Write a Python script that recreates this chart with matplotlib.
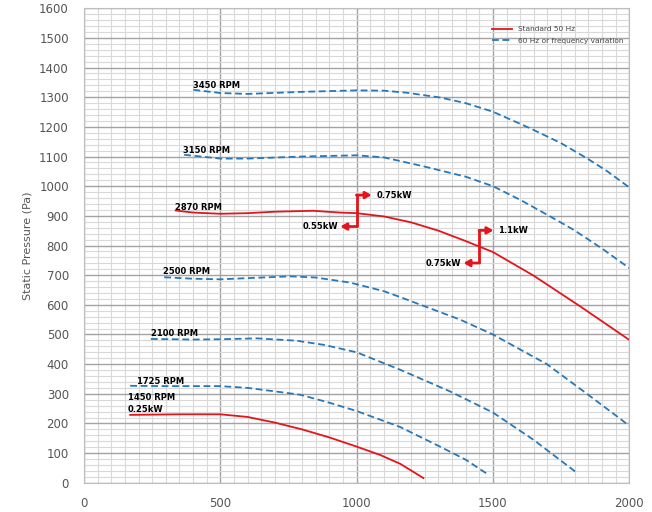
import matplotlib
matplotlib.use("Agg")
import matplotlib.pyplot as plt
from matplotlib.ticker import MultipleLocator

# fan curves: airflow (x) vs static pressure (Pa)
rpm_3450_x = [401, 500, 600, 800, 1000, 1100, 1184, 1306, 1400, 1500, 1637, 1750, 1845, 1920, 2000]
rpm_3450_y = [1325, 1314, 1311, 1318, 1323, 1322, 1315, 1299, 1280, 1251, 1195, 1145, 1094, 1050, 996]

rpm_3150_x = [367, 500, 600, 800, 1000, 1100, 1245, 1400, 1500, 1600, 1710, 1796, 1900, 2000]
rpm_3150_y = [1106, 1093, 1093, 1100, 1104, 1097, 1067, 1032, 1000, 954, 898, 853, 790, 724]

rpm_2870_x = [336, 400, 500, 600, 700, 841, 939, 1000, 1100, 1200, 1300, 1400, 1500, 1650, 1820, 2000]
rpm_2870_y = [918, 911, 907, 909, 914, 917, 911, 909, 898, 878, 850, 815, 778, 698, 595, 482]

rpm_2500_x = [294, 400, 500, 600, 756, 850, 976, 1100, 1160, 1380, 1500, 1698, 1845, 1967, 2000]
rpm_2500_y = [693, 688, 686, 690, 696, 692, 675, 646, 626, 550, 500, 400, 300, 216, 192]

rpm_2100_x = [245, 400, 500, 634, 780, 880, 1000, 1160, 1343, 1500, 1649, 1802]
rpm_2100_y = [485, 483, 484, 487, 479, 465, 440, 381, 308, 237, 145, 38]

rpm_1725_x = [169, 300, 499, 600, 719, 793, 900, 1000, 1160, 1306, 1400, 1484]
rpm_1725_y = [327, 326, 326, 320, 306, 297, 270, 242, 188, 122, 78, 27]

rpm_1450_x = [169, 352, 499, 600, 700, 800, 900, 1000, 1086, 1160, 1245]
rpm_1450_y = [229, 231, 231, 222, 203, 180, 153, 122, 94, 64, 16]

curve_labels = ["3450 RPM", "3150 RPM", "2870 RPM", "2500 RPM", "2100 RPM", "1725 RPM", "1450 RPM"]

RED = "#e3151b"
BLUE = "#2878b8"
DASH = (0, (3.8, 2.0))


def draw_grid(ax):
    ax.xaxis.set_major_locator(MultipleLocator(500))
    ax.xaxis.set_minor_locator(MultipleLocator(50))
    ax.yaxis.set_major_locator(MultipleLocator(100))
    ax.yaxis.set_minor_locator(MultipleLocator(20))
    ax.grid(which="minor", color="#d9d9d9", lw=0.8)
    ax.grid(which="major", color="#a3a3a3", lw=1.0)
    ax.set_axisbelow(True)
    ax.tick_params(which="both", length=0, colors="#555555", labelsize=8.5)
    ax.tick_params(axis="y", pad=11)
    ax.tick_params(axis="x", pad=10)
    for s in ax.spines.values():
        s.set_color("#bdbdbd")


def power_step(ax, x, y_low, y_high, dx_left, dx_right, left_text, right_text):
    ax.plot([x, x], [y_low, y_high], color=RED, lw=2, solid_capstyle="butt", zorder=5)
    arrow = dict(arrowstyle="-|>,head_length=0.35,head_width=0.2", color=RED, lw=2,
                 shrinkA=0, shrinkB=0)
    ax.annotate("", xy=(x + dx_right, y_high), xytext=(x - 1, y_high), arrowprops=arrow, zorder=5)
    ax.annotate("", xy=(x - dx_left, y_low), xytext=(x + 1, y_low), arrowprops=arrow, zorder=5)
    ax.text(x + dx_right + 17, y_high, right_text, fontsize=6, fontweight="bold", va="center", ha="left")
    ax.text(x - dx_left - 8, y_low, left_text, fontsize=6, fontweight="bold", va="center", ha="right")


def main():
    fig = plt.figure(figsize=(6.52, 5.12), dpi=100)
    ax = fig.add_axes([0.129, 0.057, 0.836, 0.927])
    draw_grid(ax)

    dashed = dict(color=BLUE, lw=1.3, ls=DASH)
    ax.plot(rpm_3450_x, rpm_3450_y, **dashed)
    ax.plot(rpm_3150_x, rpm_3150_y, **dashed)
    ax.plot(rpm_2500_x, rpm_2500_y, **dashed)
    ax.plot(rpm_2100_x, rpm_2100_y, **dashed)
    ax.plot(rpm_1725_x, rpm_1725_y, **dashed)
    ax.plot(rpm_2870_x, rpm_2870_y, color=RED, lw=1.3, label="Standard 50 Hz")
    ax.plot(rpm_1450_x, rpm_1450_y, color=RED, lw=1.3)
    ax.plot([], [], label="60 Hz or frequency variation", **dashed)

    # curve names
    label_pos = [(400, 1340), (363, 1121), (334, 929), (290, 711), (245, 505), (195, 343), (161, 286)]
    for text, (lx, ly) in zip(curve_labels, label_pos):
        ax.text(lx, ly, text, fontsize=6, fontweight="bold", va="center", ha="left")
    ax.text(161, 246, "0.25kW", fontsize=6, fontweight="bold", va="center", ha="left")

    # motor power steps
    power_step(ax, 1000, 864, 970, 60, 55, "0.55kW", "0.75kW")
    power_step(ax, 1450, 741, 851, 58, 52, "0.75kW", "1.1kW")

    ax.set_xlim(0, 2000)
    ax.set_ylim(0, 1600)
    ax.set_ylabel("Static Pressure (Pa)", fontsize=8, color="#555555")
    ax.yaxis.set_label_coords(-0.095, 0.5)

    leg = ax.legend(loc="upper left", bbox_to_anchor=(0.749, 0.962), frameon=False,
                    borderaxespad=0, borderpad=0, fontsize=5.3, handlelength=2.7,
                    handletextpad=0.8, labelspacing=0.7)
    for t in leg.get_texts():
        t.set_color("#444444")

    fig.savefig("out.png", dpi=100)


if __name__ == "__main__":
    main()
